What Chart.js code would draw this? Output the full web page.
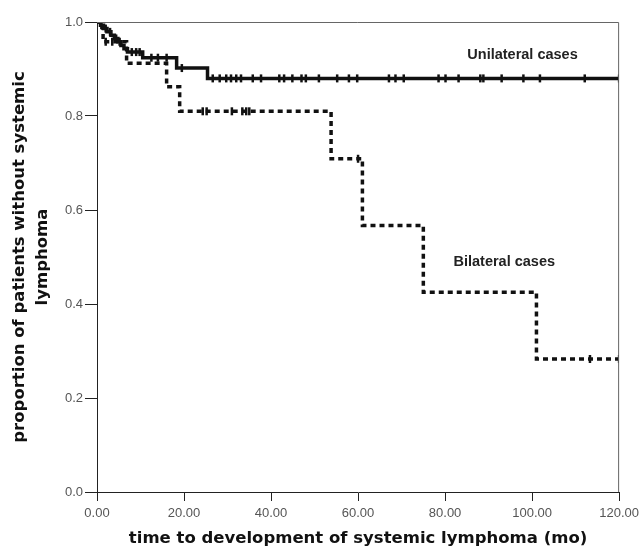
<!DOCTYPE html>
<html>
<head>
<meta charset="utf-8">
<script src="https://cdn.jsdelivr.net/npm/chart.js@4"></script>
<style>
  html, body { margin: 0; padding: 0; background: white; }
  .km-wrap { position: relative; width: 644px; height: 551px; }
</style>
</head>
<body>
<div class="km-wrap"><canvas id="km-canvas"></canvas></div>
<script>
// Kaplan-Meier: time to systemic lymphoma, unilateral vs bilateral cases

// step curves: event times (months) and survival after each step
const uniTimes = [0, 0.8, 1.5, 2.3, 3.2, 4.0, 4.8, 5.5, 6.2, 7.0, 10.5, 18.3, 25.4, 120];
const uniSurv  = [1.0, 0.993, 0.986, 0.979, 0.972, 0.965, 0.958, 0.950, 0.943, 0.936, 0.924, 0.902, 0.880, 0.880];

const biTimes = [0, 1.4, 6.8, 16.0, 19.0, 53.8, 61.0, 75.0, 101.0, 120];
const biSurv  = [1.0, 0.958, 0.912, 0.862, 0.810, 0.709, 0.567, 0.425, 0.283, 0.283];

// censored observations (months)
const uniCensor = [1.0, 2.0, 3.0, 4.4, 5.2, 8.0, 9.0, 9.8, 12.5, 14.0, 16.0, 19.5,
    26.6, 28.2, 29.7, 30.8, 32.0, 33.1, 35.8, 37.7, 41.9, 43.0, 44.9, 47.0, 48.0,
    51.0, 55.2, 57.9, 59.8, 67.1, 68.6, 70.5, 78.5, 80.1, 83.1, 88.1, 88.8, 93.0,
    98.0, 101.8, 112.1, 120];
const biCensor = [2.0, 3.5, 24.3, 25.2, 31.0, 33.4, 34.3, 35.0, 60.0, 113.3, 120];

const xTicks = [0, 20, 40, 60, 80, 100, 120];
const yTicks = [0, 0.2, 0.4, 0.6, 0.8, 1.0];

function survAt(times, surv, t) {
    let s = surv[0];
    for (let i = 0; i < times.length; i++) {
        if (times[i] <= t) s = surv[i];
    }
    return s;
}

function curve(times, surv) {
    return times.map(function (t, i) { return { x: t, y: surv[i] }; });
}

function censorPts(list, times, surv) {
    return list.map(function (t) { return { x: t, y: survAt(times, surv, t) }; });
}

// curve labels, placed in data units
const curveLabels = [
    { text: 'Unilateral cases', x: 97.8, y: 0.93 },
    { text: 'Bilateral cases', x: 93.6, y: 0.489 }
];

const framePlugin = {
    id: 'frame',
    afterDraw: function (chart) {
        const a = chart.chartArea;
        const ctx = chart.ctx;
        ctx.save();
        ctx.strokeStyle = '#666';
        ctx.lineWidth = 1;
        ctx.beginPath();
        ctx.moveTo(a.left, a.top + 0.5);
        ctx.lineTo(a.right - 0.5, a.top + 0.5);
        ctx.lineTo(a.right - 0.5, a.bottom);
        ctx.stroke();
        ctx.fillStyle = '#222';
        ctx.font = 'bold 14.5px "Liberation Sans", Arial, sans-serif';
        ctx.textAlign = 'center';
        ctx.textBaseline = 'middle';
        curveLabels.forEach(function (l) {
            ctx.fillText(l.text, chart.scales.x.getPixelForValue(l.x),
                chart.scales.y.getPixelForValue(l.y));
        });
        ctx.restore();
    }
};

const tickFont = { family: '"Liberation Sans", Arial, sans-serif', size: 13 };
const titleFont = { family: '"DejaVu Sans", Verdana, sans-serif', size: 16.5, weight: 'bold' };

new Chart(document.getElementById('km-canvas'), {
    type: 'line',
    data: {
        datasets: [
            { label: 'Unilateral cases', data: curve(uniTimes, uniSurv),
              borderColor: '#111', borderWidth: 3.5, stepped: true,
              pointRadius: 0, fill: false },
            { label: 'Bilateral cases', data: curve(biTimes, biSurv),
              borderColor: '#111', borderWidth: 3.5, borderDash: [5, 4],
              stepped: true, pointRadius: 0, fill: false },
            { label: 'uni censored', data: censorPts(uniCensor, uniTimes, uniSurv),
              showLine: false, pointStyle: 'line', rotation: 90, pointRadius: 4,
              borderColor: '#111', borderWidth: 2.5 },
            { label: 'bi censored', data: censorPts(biCensor, biTimes, biSurv),
              showLine: false, pointStyle: 'line', rotation: 90, pointRadius: 4,
              borderColor: '#111', borderWidth: 2.5 }
        ]
    },
    options: {
        responsive: true,
        maintainAspectRatio: false,
        animation: false,
        layout: { padding: { top: 22, right: 23, bottom: 0, left: 0 } },
        plugins: { legend: { display: false }, tooltip: { enabled: false } },
        scales: {
            x: {
                type: 'linear', min: 0, max: 120,
                afterFit: function (s) { s.height = 59; },
                afterBuildTicks: function (s) { s.ticks = xTicks.map(function (v) { return { value: v }; }); },
                border: { display: true, color: '#222', width: 1 },
                grid: { drawOnChartArea: false, drawTicks: true, tickLength: 9, color: '#222' },
                ticks: { color: '#555', font: tickFont, padding: 5, maxRotation: 0,
                         callback: function (v) { return Number(v).toFixed(2); } },
                title: { display: true, text: 'time to development of systemic lymphoma (mo)',
                         color: '#111', font: titleFont, padding: { top: 0, bottom: 2 } }
            },
            y: {
                type: 'linear', min: 0, max: 1,
                afterFit: function (s) { s.width = 97; },
                afterBuildTicks: function (s) { s.ticks = yTicks.map(function (v) { return { value: v }; }); },
                border: { display: true, color: '#222', width: 1 },
                grid: { drawOnChartArea: false, drawTicks: true, tickLength: 12, color: '#222' },
                ticks: { color: '#555', font: tickFont, padding: 2,
                         callback: function (v) { return Number(v).toFixed(1); } },
                title: { display: true,
                         text: ['proportion of patients without systemic', 'lymphoma'],
                         color: '#111', font: Object.assign({}, titleFont, { lineHeight: 1.4 }),
                         padding: { top: 8, bottom: 0 } }
            }
        }
    },
    plugins: [framePlugin]
});
</script>
</body>
</html>
